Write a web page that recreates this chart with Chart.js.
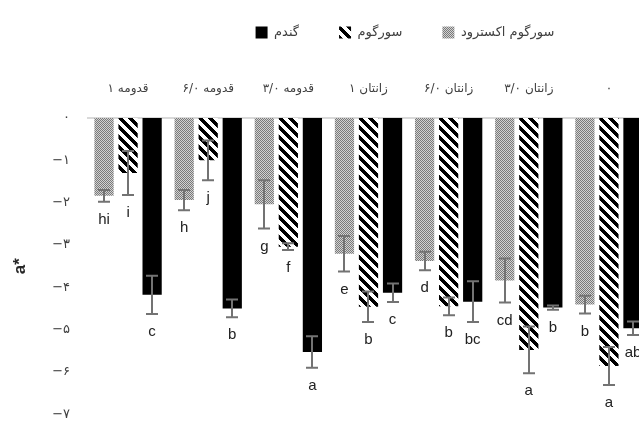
<!DOCTYPE html>
<html>
<head>
<meta charset="utf-8">
<script src="https://cdn.jsdelivr.net/npm/chart.js@4.4.1/dist/chart.umd.min.js"></script>
<style>
  html, body { margin: 0; padding: 0; overflow: hidden; background: #fff; }
  #chart { display: block; }
</style>
</head>
<body>
<canvas id="chart" width="810" height="440"></canvas>
<script>
// Categories, left to right as in the picture (word first, the canvas puts the number on its left)
const categories = ['قدومه ۱', 'قدومه ۶/۰', 'قدومه ۳/۰', 'زانتان ۱', 'زانتان ۶/۰', 'زانتان ۳/۰', '۰'];

// Series labels
const seriesNames = ['سورگوم اکسترود', 'سورگوم', 'گندم'];

// a* values
const extrudedValues = [-1.84, -1.94, -2.04, -3.21, -3.38, -3.84, -4.41];
const sorghumValues  = [-1.30, -1.00, -3.04, -4.46, -4.45, -5.48, -5.86];
const wheatValues    = [-4.18, -4.50, -5.53, -4.13, -4.34, -4.48, -4.97];

// error bar half-lengths
const extrudedErrors = [0.14, 0.24, 0.57, 0.42, 0.22, 0.52, 0.21];
const sorghumErrors  = [0.52, 0.47, 0.08, 0.36, 0.21, 0.55, 0.45];
const wheatErrors    = [0.45, 0.21, 0.37, 0.22, 0.48, 0.05, 0.16];

// significance letters
const extrudedLetters = ['hi', 'h', 'g', 'e', 'd', 'cd', 'b'];
const sorghumLetters  = ['i', 'j', 'f', 'b', 'b', 'a', 'a'];
const wheatLetters    = ['c', 'b', 'a', 'c', 'bc', 'b', 'ab'];

// y tick labels, indexed by -value
const yTickLabels = ['۰', '−۱', '−۲', '−۳', '−۴', '−۵', '−۶', '−۷'];

const persianFont = "'DejaVu Sans', sans-serif";

// Fine dotted gray fill
function makeDotPattern() {
  const c = document.createElement('canvas');
  c.width = 2; c.height = 2;
  const g = c.getContext('2d');
  g.fillStyle = '#d2d2d2';
  g.fillRect(0, 0, 2, 2);
  g.fillStyle = '#7a7a7a';
  g.fillRect(0, 0, 1, 1);
  g.fillRect(1, 1, 1, 1);
  return g.createPattern(c, 'repeat');
}

// Black/white diagonal stripes going down to the right
function makeStripePattern() {
  const size = 10;
  const c = document.createElement('canvas');
  c.width = size; c.height = size;
  const g = c.getContext('2d');
  g.fillStyle = '#ffffff';
  g.fillRect(0, 0, size, size);
  g.fillStyle = '#000000';
  for (let x = 0; x < size; x++) {
    for (let y = 0; y < size; y++) {
      if (((x - y) % size + size) % size < 5) g.fillRect(x, y, 1, 1);
    }
  }
  return g.createPattern(c, 'repeat');
}

// Draw error bars and letters on top of the bars
const errorBarPlugin = {
  id: 'errorBars',
  afterDatasetsDraw(chart) {
    const ctx = chart.ctx;
    const yScale = chart.scales.y;
    ctx.save();
    chart.data.datasets.forEach((ds, i) => {
      const meta = chart.getDatasetMeta(i);
      meta.data.forEach((bar, j) => {
        const v = ds.data[j];
        const e = ds.errors[j];
        const yHi = yScale.getPixelForValue(v + e);
        const yLo = yScale.getPixelForValue(v - e);
        const x = Math.round(bar.x);
        ctx.strokeStyle = '#737373';
        ctx.lineWidth = 2;
        ctx.beginPath();
        ctx.moveTo(x, yHi);
        ctx.lineTo(x, yLo);
        ctx.moveTo(x - 6, yHi);
        ctx.lineTo(x + 6, yHi);
        ctx.moveTo(x - 6, yLo);
        ctx.lineTo(x + 6, yLo);
        ctx.stroke();

        ctx.fillStyle = '#222222';
        ctx.font = "15px 'Liberation Sans', sans-serif";
        ctx.textAlign = 'center';
        ctx.textBaseline = 'middle';
        ctx.fillText(ds.letters[j], bar.x, yLo + 18);
      });
    });
    ctx.restore();
  }
};

function buildChart() {
  const ctx = document.getElementById('chart').getContext('2d');
  const dots = makeDotPattern();
  const stripes = makeStripePattern();

  new Chart(ctx, {
    type: 'bar',
    data: {
      labels: categories,
      datasets: [
        {
          label: seriesNames[0],
          data: extrudedValues,
          errors: extrudedErrors,
          letters: extrudedLetters,
          backgroundColor: dots,
          borderWidth: 0
        },
        {
          label: seriesNames[1],
          data: sorghumValues,
          errors: sorghumErrors,
          letters: sorghumLetters,
          backgroundColor: stripes,
          borderWidth: 0
        },
        {
          label: seriesNames[2],
          data: wheatValues,
          errors: wheatErrors,
          letters: wheatLetters,
          backgroundColor: '#000000',
          borderWidth: 0
        }
      ]
    },
    options: {
      responsive: false,
      animation: false,
      barPercentage: 0.8,
      categoryPercentage: 0.9,
      layout: {
        padding: { top: -14, bottom: 23, left: 0, right: 0 }
      },
      plugins: {
        legend: {
          position: 'top',
          align: 'center',
          reverse: true,
          labels: {
            boxWidth: 12,
            boxHeight: 12,
            padding: 40,
            color: '#404040',
            font: { family: persianFont, size: 13 }
          }
        },
        tooltip: { enabled: false }
      },
      scales: {
        x: {
          type: 'category',
          position: 'top',
          grid: { display: false, drawTicks: false },
          border: { display: true, color: '#d9d9d9', width: 2 },
          ticks: {
            padding: 22,
            color: '#404040',
            maxRotation: 0,
            autoSkip: false,
            font: { family: persianFont, size: 12 }
          },
          afterFit(scale) {
            scale.height = 69;
          }
        },
        y: {
          min: -7,
          max: 0,
          position: 'left',
          grid: { display: false, drawTicks: false },
          border: { display: false },
          ticks: {
            stepSize: 1,
            padding: 18,
            color: '#404040',
            font: { family: persianFont, size: 13 },
            callback: (value) => yTickLabels[Math.round(-value)]
          },
          title: {
            display: true,
            text: 'a*',
            color: '#262626',
            font: { family: "'Liberation Sans', sans-serif", size: 17, weight: 'bold' },
            padding: { top: 10, bottom: 0 }
          },
          afterFit(scale) {
            scale.width = 88;
          }
        },
        // spacer on the right so the plot runs past the window edge like the picture
        pad: {
          type: 'linear',
          position: 'right',
          display: true,
          grid: { display: false, drawTicks: false },
          border: { display: false },
          ticks: { display: false },
          afterFit(scale) {
            scale.width = 161;
          }
        }
      }
    },
    plugins: [errorBarPlugin]
  });
}

document.addEventListener('DOMContentLoaded', () => {
  buildChart();
});
</script>
</body>
</html>
